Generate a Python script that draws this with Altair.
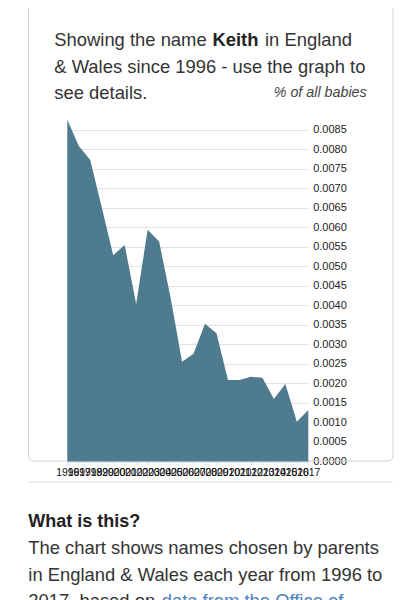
import altair as alt
import pandas as pd

# ---- data ----
years = list(range(1996, 2018))
pct = [0.00876, 0.00809, 0.00773, 0.00652, 0.00529, 0.00555, 0.00404, 0.00594,
       0.00564, 0.00420, 0.00256, 0.00276, 0.00353, 0.00329, 0.00209, 0.00209,
       0.00217, 0.00215, 0.00160, 0.00199, 0.00102, 0.00132]
y_ticks = [0.0, 0.0005, 0.001, 0.0015, 0.002, 0.0025, 0.003, 0.0035, 0.004,
           0.0045, 0.005, 0.0055, 0.006, 0.0065, 0.007, 0.0075, 0.008, 0.0085]

title_a = "Showing the name"
title_b = "Keith"
title_c = "in England"
title_2 = "& Wales since 1996 - use the graph to"
title_3 = "see details."
unit_label = "% of all babies"
what_head = "What is this?"
what_1 = "The chart shows names chosen by parents"
what_2 = "in England & Wales each year from 1996 to"
what_3a = "2017, based on"
what_3b = "data from the Office of"

df = pd.DataFrame({"year": years, "pct": pct})

# plot-area origin on the page (page margin 8 + padding)
OX, OY = 67.3, 115.0
W, H = 241.0, 346.5
FONT = "Liberation Sans, Helvetica, Arial, sans-serif"


def rx(v):
    return v - OX


def ry(v):
    return v - OY


def txt(s, x, y, size=18.4, weight="normal", style="normal", color="#333333", align="left"):
    return alt.Chart(pd.DataFrame({"t": [s]})).mark_text(
        align=align, baseline="alphabetic", font=FONT, fontSize=size,
        fontWeight=weight, fontStyle=style, color=color
    ).encode(x=alt.value(rx(x)), y=alt.value(ry(y)), text="t:N")


card = alt.Chart(pd.DataFrame({"a": [0]})).mark_rect(
    fill="white", fillOpacity=0, stroke="#d2d2d2", strokeWidth=1, cornerRadius=5
).encode(x=alt.value(rx(28.5)), x2=alt.value(rx(393)), y=alt.value(ry(2.5)), y2=alt.value(ry(461)))

sep = alt.Chart(pd.DataFrame({"a": [0]})).mark_rule(color="#e8e8e8", strokeWidth=1.5).encode(
    x=alt.value(rx(28)), x2=alt.value(rx(393)), y=alt.value(ry(482))
)

area = alt.Chart(df).mark_area(color="#4f7b8f", opacity=1).encode(
    x=alt.X("year:Q",
            scale=alt.Scale(domain=[1996, 2017], nice=False, zero=False),
            axis=alt.Axis(values=years, format="d", labelOverlap=False, labelFlush=False,
                          labelFontSize=10.4, labelColor="#111111", labelFont=FONT,
                          tickColor="#dddddd", tickSize=3, domain=False, grid=False,
                          labelPadding=3, title=None)),
    y=alt.Y("pct:Q",
            scale=alt.Scale(domain=[0, 0.0088846], nice=False, zero=True),
            axis=alt.Axis(orient="right", values=y_ticks, format=".4f", grid=True,
                          gridColor="#e2e2e2", gridWidth=1.2, domain=False, ticks=False,
                          labelPadding=4.4, labelFontSize=11, labelColor="#222222",
                          labelFont=FONT, title=None)),
)

texts = [
    txt(title_a, 54.3, 46),
    txt(title_b, 212.5, 46, weight="bold", color="#222222"),
    txt(title_c, 265, 46),
    txt(title_2, 54.3, 72.7),
    txt(title_3, 54.3, 99.3),
    txt(unit_label, 366.7, 96.7, size=14.3, style="italic", color="#444444", align="right"),
    txt(what_head, 28.3, 526.7, size=18, weight="bold", color="#222222"),
    txt(what_1, 28.3, 554),
    txt(what_2, 28.3, 580.7),
    txt(what_3a, 28.3, 607.4),
    txt(what_3b, 161.7, 607.4, color="#4a7fbd"),
]

chart = alt.layer(card, sep, area, *texts).properties(
    width=W, height=H,
    autosize=alt.AutoSizeParams(type="none"),
    padding={"left": OX - 8, "top": OY - 8, "right": 402 - (OX - 8) - W, "bottom": 592 - (OY - 8) - H},
    background="white",
).configure_view(strokeWidth=0)

chart.save("out.html", embed_options={"renderer": "svg", "actions": False})
